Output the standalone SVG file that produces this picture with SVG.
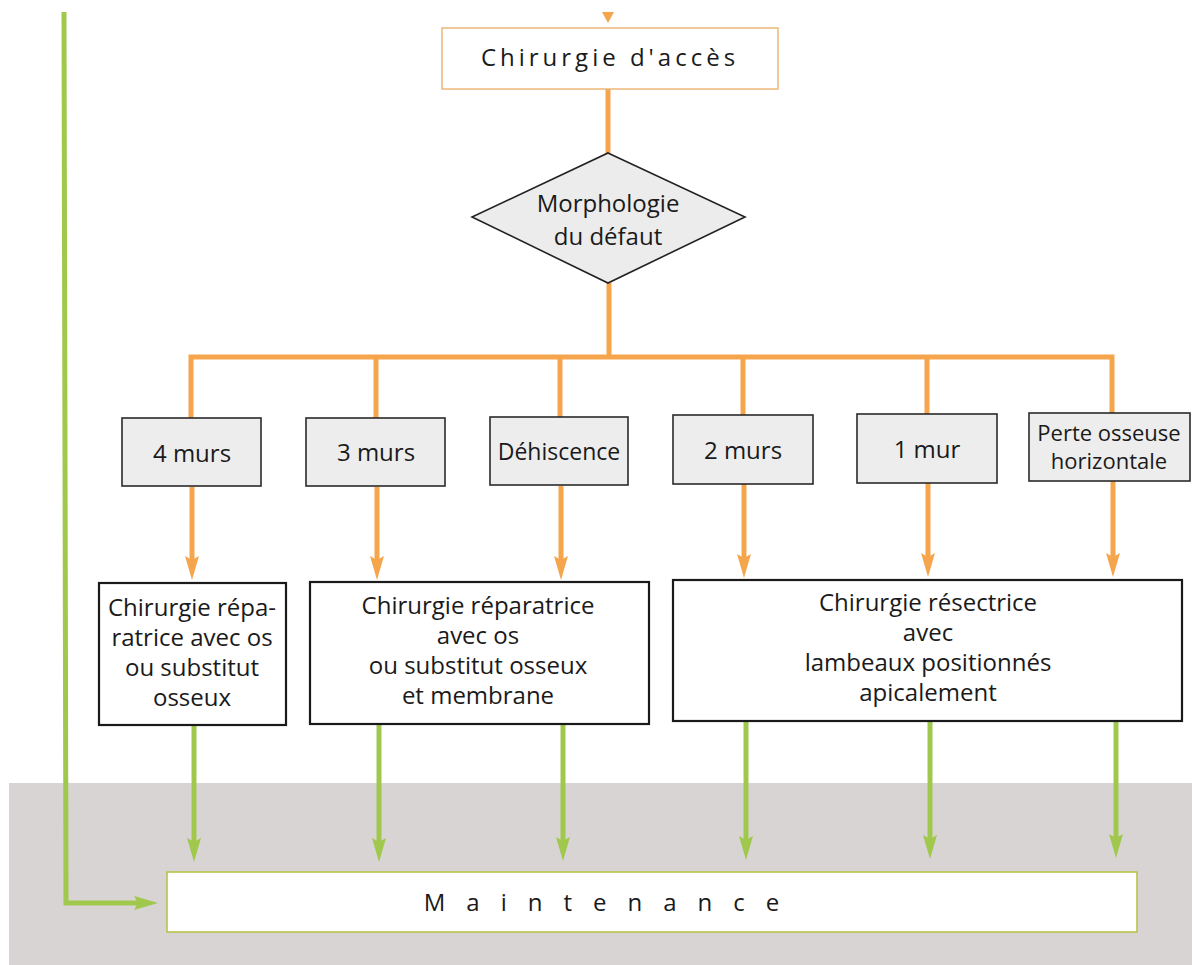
<svg xmlns="http://www.w3.org/2000/svg" width="1192" height="965" viewBox="0 0 1192 965">
<defs>
<style>
.t{font-family:"Open Sans","Noto Sans","DejaVu Sans",sans-serif;font-size:24px;fill:#1a1a1a;text-anchor:middle}
.og{fill:none;stroke:#f5a54c;stroke-width:5}
.gr{fill:none;stroke:#9fc84c;stroke-width:5}
.sb{fill:#ededed;stroke:#2a2a2a;stroke-width:1.6}
.bb{fill:#ffffff;stroke:#1a1a1a;stroke-width:2.2}
</style>
<marker id="ao" viewBox="0 0 24 14" refX="4" refY="7" markerWidth="24" markerHeight="14" markerUnits="userSpaceOnUse" orient="auto">
<path d="M0,0 L4,7 L0,14 L24,7 Z" fill="#f5a54c"/>
</marker>
<marker id="ag" viewBox="0 0 24 14" refX="4" refY="7" markerWidth="24" markerHeight="14" markerUnits="userSpaceOnUse" orient="auto">
<path d="M0,0 L4,7 L0,14 L24,7 Z" fill="#9fc84c"/>
</marker>
</defs>
<rect x="0" y="0" width="1192" height="965" fill="#ffffff"/>
<rect x="9" y="783" width="1183" height="182" fill="#d9d4d4"/>

<g id="connectors">
<path d="M602,12 L614,12 L608,23 Z" fill="#f5a54c"/>
<line class="og" x1="608" y1="89" x2="608" y2="153"/>
<line class="og" x1="609" y1="283" x2="609" y2="357"/>
<polyline class="og" points="191,418 191,357 1112,357 1112,413"/>
<line class="og" x1="376" y1="357" x2="376" y2="418"/>
<line class="og" x1="560" y1="357" x2="560" y2="418"/>
<line class="og" x1="743" y1="357" x2="743" y2="415"/>
<line class="og" x1="927" y1="357" x2="927" y2="414"/>
<line class="og" x1="192" y1="487" x2="192" y2="560" marker-end="url(#ao)"/>
<line class="og" x1="377" y1="487" x2="377" y2="560" marker-end="url(#ao)"/>
<line class="og" x1="561" y1="486" x2="561" y2="560" marker-end="url(#ao)"/>
<line class="og" x1="744" y1="484" x2="744" y2="558" marker-end="url(#ao)"/>
<line class="og" x1="928" y1="483" x2="928" y2="557" marker-end="url(#ao)"/>
<line class="og" x1="1113" y1="481" x2="1113" y2="557" marker-end="url(#ao)"/>
<line class="gr" x1="194" y1="725" x2="194" y2="842" marker-end="url(#ag)"/>
<line class="gr" x1="379" y1="724" x2="379" y2="842" marker-end="url(#ag)"/>
<line class="gr" x1="563" y1="723" x2="563" y2="841" marker-end="url(#ag)"/>
<line class="gr" x1="746" y1="721" x2="746" y2="840" marker-end="url(#ag)"/>
<line class="gr" x1="930" y1="721" x2="930" y2="839" marker-end="url(#ag)"/>
<line class="gr" x1="1116" y1="721" x2="1116" y2="838" marker-end="url(#ag)"/>
<polyline class="gr" points="64,12 66,903 138,903" marker-end="url(#ag)"/>
</g>

<g id="n-acces">
<rect x="442" y="28" width="336" height="61" fill="#ffffff" stroke="#ecb77a" stroke-width="1.5"/>
<text class="t" x="610" y="66" style="letter-spacing:4px">Chirurgie d'accès</text>
</g>

<g id="n-morpho">
<polygon points="608,153 745,217 608,283 472,217" fill="#ececec" stroke="#222" stroke-width="1.6"/>
<text class="t" x="608" y="212">Morphologie</text>
<text class="t" x="608" y="245">du défaut</text>
</g>

<g id="n-4murs">
<rect class="sb" x="122" y="418" width="139" height="68"/>
<text class="t" x="192" y="462">4 murs</text>
</g>
<g id="n-3murs">
<rect class="sb" x="306" y="418" width="139" height="68"/>
<text class="t" x="376" y="461">3 murs</text>
</g>
<g id="n-dehiscence">
<rect class="sb" x="490" y="417" width="138" height="68"/>
<text class="t" x="559" y="460" style="font-size:23px">Déhiscence</text>
</g>
<g id="n-2murs">
<rect class="sb" x="673" y="415" width="140" height="69"/>
<text class="t" x="743" y="459">2 murs</text>
</g>
<g id="n-1mur">
<rect class="sb" x="857" y="414" width="140" height="69"/>
<text class="t" x="927" y="458">1 mur</text>
</g>
<g id="n-perte">
<rect class="sb" x="1029" y="413" width="161" height="68"/>
<text class="t" x="1109" y="441" style="font-size:22px">Perte osseuse</text>
<text class="t" x="1109" y="469" style="font-size:22px">horizontale</text>
</g>

<g id="n-rep1">
<rect class="bb" x="99" y="583" width="187" height="142"/>
<text class="t" x="192" y="616">Chirurgie répa-</text>
<text class="t" x="192" y="646">ratrice avec os</text>
<text class="t" x="192" y="676">ou substitut</text>
<text class="t" x="192" y="706">osseux</text>
</g>
<g id="n-rep2">
<rect class="bb" x="310" y="582" width="339" height="142"/>
<text class="t" x="478" y="614">Chirurgie réparatrice</text>
<text class="t" x="478" y="644">avec os</text>
<text class="t" x="478" y="674">ou substitut osseux</text>
<text class="t" x="478" y="704">et membrane</text>
</g>
<g id="n-resect">
<rect class="bb" x="673" y="580" width="509" height="141"/>
<text class="t" x="928" y="611">Chirurgie résectrice</text>
<text class="t" x="928" y="641">avec</text>
<text class="t" x="928" y="671">lambeaux positionnés</text>
<text class="t" x="928" y="701">apicalement</text>
</g>

<g id="n-maintenance">
<rect x="167" y="872" width="970" height="60" fill="#ffffff" stroke="#b9c24a" stroke-width="1.6"/>
<text class="t" x="612" y="911" style="letter-spacing:21px">Maintenance</text>
</g>
</svg>
